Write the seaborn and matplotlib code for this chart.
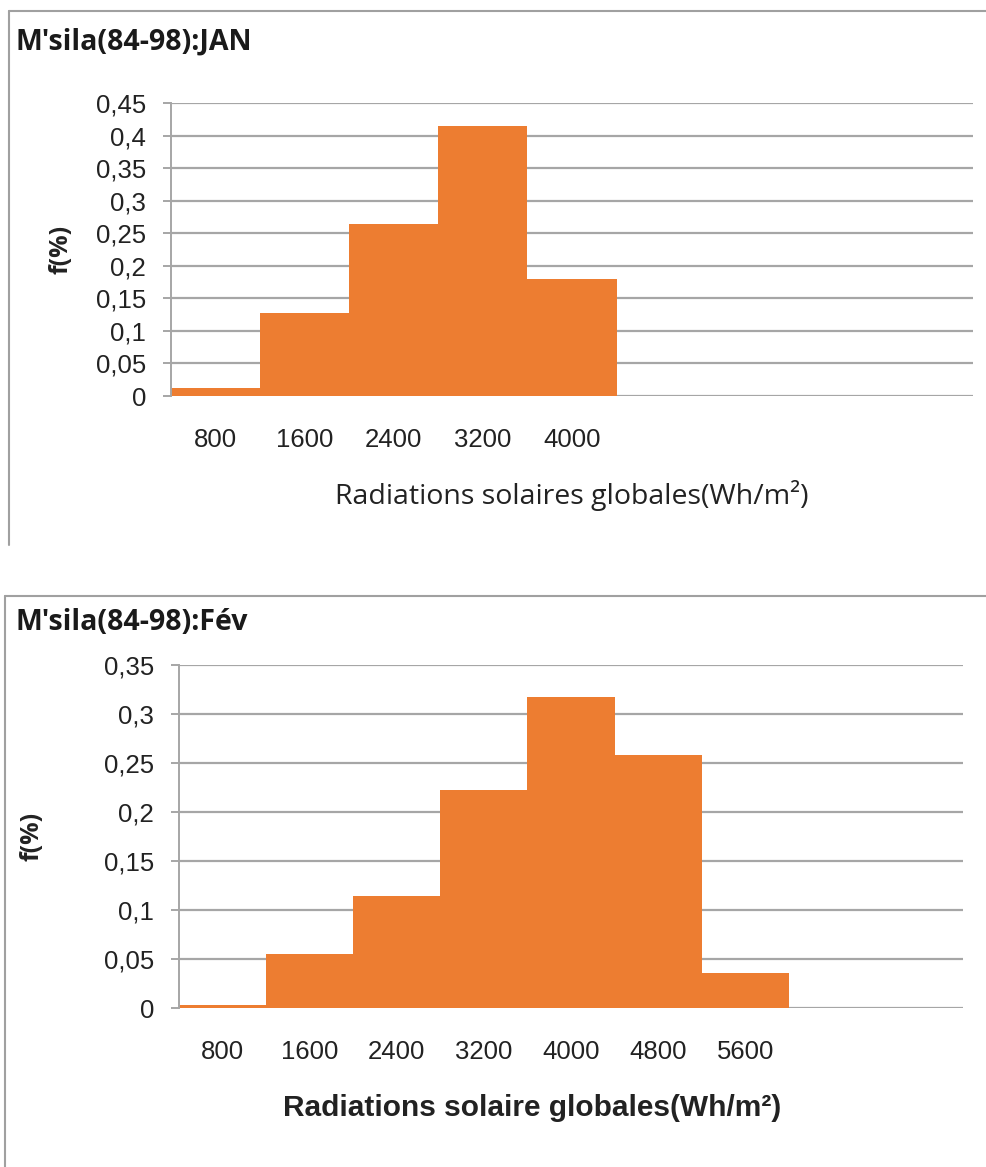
import numpy as np
import pandas as pd
import matplotlib
matplotlib.use("Agg")
import matplotlib.pyplot as plt
from matplotlib.lines import Line2D
import seaborn as sns

# ------ DATA ------
jan_bins = ["800", "1600", "2400", "3200", "4000"]
jan_freq = [0.012, 0.128, 0.264, 0.415, 0.179]
jan_yticks = [0, 0.05, 0.1, 0.15, 0.2, 0.25, 0.3, 0.35, 0.4, 0.45]

feb_bins = ["800", "1600", "2400", "3200", "4000", "4800", "5600"]
feb_freq = [0.003, 0.055, 0.114, 0.222, 0.317, 0.258, 0.036]
feb_yticks = [0, 0.05, 0.1, 0.15, 0.2, 0.25, 0.3, 0.35]

n_slots = 9  # Excel category axis keeps 9 slots, the last ones empty

jan = pd.DataFrame({"bin": jan_bins, "f": jan_freq})
feb = pd.DataFrame({"bin": feb_bins, "f": feb_freq})

ORANGE = "#ED7D31"
GRID = "#A6A6A6"

sns.set_theme(style="white")
plt.rcParams["font.family"] = ["Liberation Sans", "DejaVu Sans"]

W, H = 987, 1167
fig = plt.figure(figsize=(W / 100, H / 100), dpi=100)


def px_axes(left, top, right, bottom):
    return fig.add_axes([left / W, 1 - bottom / H, (right - left) / W, (bottom - top) / H])


def comma(v):
    return f"{v:g}".replace(".", ",")


def draw(ax, df, yticks, xlabel, xlab_pos, ylab_x, xlab_font):
    sns.barplot(data=df, x="bin", y="f", color=ORANGE, width=1.0,
                linewidth=0, saturation=1, ax=ax, zorder=2)
    ax.set_xlim(-0.5, n_slots - 0.5)
    ax.set_ylim(0, yticks[-1])
    ax.set_yticks(yticks)
    ax.set_yticklabels([comma(v) for v in yticks], fontsize=18.5, color="#222222")
    ax.set_axisbelow(True)
    ax.yaxis.grid(True, color=GRID, linewidth=1.6)
    for s in ["top", "right", "bottom"]:
        ax.spines[s].set_visible(False)
    ax.spines["left"].set_color(GRID)
    ax.spines["left"].set_linewidth(1.4)
    ax.tick_params(axis="y", left=True, length=6, width=1.4, color=GRID, pad=12)
    ax.tick_params(axis="x", bottom=False, length=0, pad=23, labelsize=18.5,
                   labelcolor="#222222")
    ax.set_xlabel(xlabel, va="center", **xlab_font)
    ax.xaxis.set_label_coords(*xlab_pos)
    ax.set_ylabel("f(%)", va="center", fontsize=18, fontweight="bold",
                  family=["Open Sans", "DejaVu Sans"], color="#222222")
    ax.yaxis.set_label_coords(ylab_x, 0.5)


# ---- top chart : January ----
ax1 = px_axes(171, 103, 973, 396)
draw(ax1, jan, jan_yticks, "Radiations solaires globales(Wh/m²)",
     (0.5, -0.338), -0.137,
     dict(fontsize=20.5, family=["Open Sans", "DejaVu Sans"], color="#222222"))

# ---- bottom chart : February ----
ax2 = px_axes(179, 665, 963, 1008)
draw(ax2, feb, feb_yticks, "Radiations solaire globales(Wh/m²)",
     (0.45, -0.292), -0.1875,
     dict(fontsize=21.5, fontweight="bold", color="#222222"))

# titles
title_font = dict(fontsize=20.5, fontweight="bold", family=["Open Sans", "DejaVu Sans"],
                  color="#1a1a1a", va="center", ha="left")
fig.text(15 / W, 1 - 42 / H, "M'sila(84-98):JAN", **title_font)
fig.text(15 / W, 1 - 622 / H, "M'sila(84-98):Fév", **title_font)

# chart frames (Excel chart area borders)
frame = dict(color="#A0A0A0", linewidth=1.5, transform=fig.transFigure)
fig.add_artist(Line2D([9 / W, 1], [1 - 11 / H, 1 - 11 / H], **frame))
fig.add_artist(Line2D([9 / W, 9 / W], [1 - 11 / H, 1 - 545 / H], **frame))
fig.add_artist(Line2D([5 / W, 1], [1 - 596 / H, 1 - 596 / H], **frame))
fig.add_artist(Line2D([5 / W, 5 / W], [1 - 596 / H, 0], **frame))

fig.savefig("out.png", dpi=100)
